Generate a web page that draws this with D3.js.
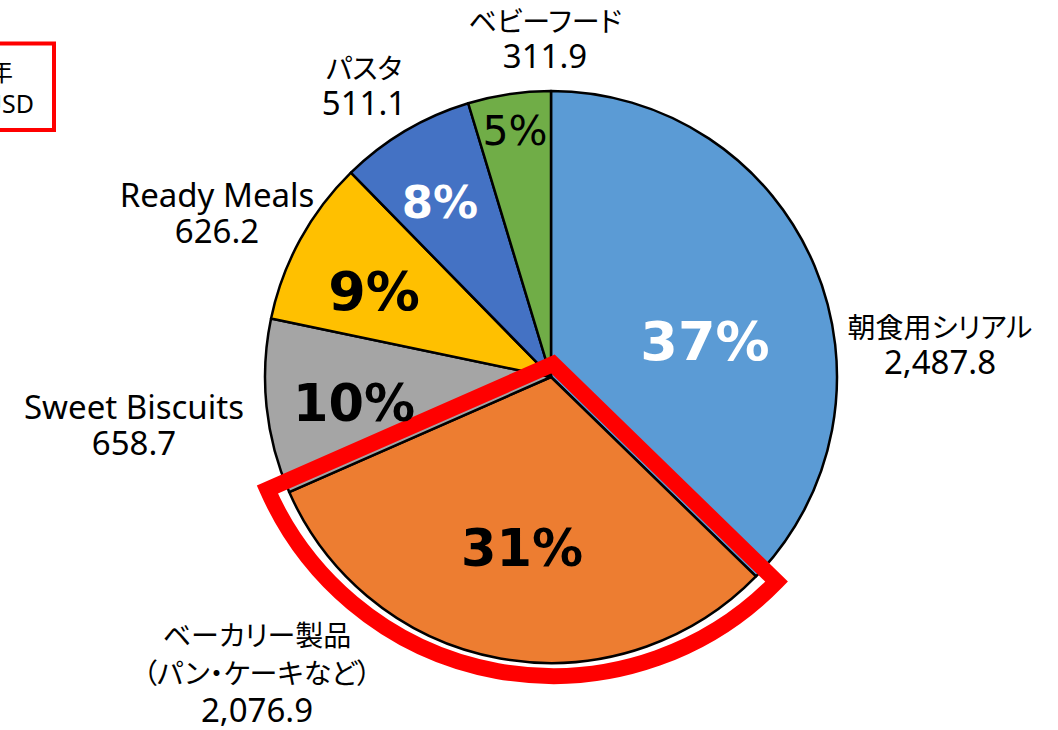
<!DOCTYPE html>
<html>
<head>
<meta charset="utf-8">
<script src="https://cdn.jsdelivr.net/npm/d3@7"></script>
<style>
  html, body { margin: 0; padding: 0; background: #fff; }
  svg { display: block; }
  .cjk { font-feature-settings: "palt" 1; }
</style>
</head>
<body>
<svg id="chart" width="1058" height="730"></svg>
<script>
// ---- data ----
const categories = ["朝食用シリアル", "ベーカリー製品\n（パン・ケーキなど）", "Sweet Biscuits", "Ready Meals", "パスタ", "ベビーフード"];
const values = [2487.8, 2076.9, 658.7, 626.2, 511.1, 311.9];
const valueLabels = ["2,487.8", "2,076.9", "658.7", "626.2", "511.1", "311.9"];
const boxLines = ["2023年", "百万USD"];
const highlightIndex = 1;

// ---- styling / layout ----
const colors = ["#5B9BD5", "#ED7D31", "#A5A5A5", "#FFC000", "#4472C4", "#70AD47"];
const cx = 551, cy = 377, R = 286;
// outside category labels: center x, first baseline y
const catLabelPos = [[940, 338], [257, 646], [134, 419], [217, 207], [364, 79], [545, 32]];
// inside percent labels: center x, baseline y, size, weight, color
const pctStyle = [
  [705, 360, 54, "bold", "#fff"],
  [522, 566, 51, "bold", "#000"],
  [354, 421, 51, "bold", "#000"],
  [374, 310, 54, "bold", "#000"],
  [440, 218, 45, "bold", "#fff"],
  [515, 145, 41, "normal", "#000"]
];

const svg = d3.select("#chart");
const total = d3.sum(values);
const pie = d3.pie().sort(null).value(d => d);
const arcs = pie(values);
const arc = d3.arc().innerRadius(0).outerRadius(R);

const g = svg.append("g").attr("transform", `translate(${cx},${cy})`);
g.selectAll("path.slice")
  .data(arcs)
  .join("path")
  .attr("class", "slice")
  .attr("d", arc)
  .attr("fill", (d, i) => colors[i])
  .attr("stroke", "#000")
  .attr("stroke-width", 2.5)
  .attr("stroke-linejoin", "round");

// highlight outline around bakery slice
const h = arcs[highlightIndex];
const hArc = d3.arc().innerRadius(0).outerRadius(R + 26);
svg.append("path")
  .attr("transform", `translate(${cx + 2},${cy - 13})`)
  .attr("d", hArc({startAngle: h.startAngle, endAngle: h.endAngle}))
  .attr("fill", "none")
  .attr("stroke", "#FF0000")
  .attr("stroke-width", 16)
  .attr("stroke-linejoin", "miter")
  .attr("stroke-miterlimit", 10);

// percent labels
svg.selectAll("text.pct")
  .data(values)
  .join("text")
  .attr("class", "pct")
  .attr("x", (d, i) => pctStyle[i][0])
  .attr("y", (d, i) => pctStyle[i][1])
  .attr("text-anchor", "middle")
  .attr("font-family", "'DejaVu Sans', sans-serif")
  .attr("font-size", (d, i) => pctStyle[i][2])
  .attr("font-weight", (d, i) => pctStyle[i][3])
  .attr("fill", (d, i) => pctStyle[i][4])
  .text(d => Math.round(d / total * 100) + "%");

// category labels
const isCJK = s => /[\u3000-\u9fff\uff00-\uffef]/.test(s);
categories.forEach((c, i) => {
  const lines = c.split("\n").concat([valueLabels[i]]);
  const [x, y0] = catLabelPos[i];
  const t = svg.append("text")
    .attr("text-anchor", "middle")
    .attr("fill", "#000");
  lines.forEach((ln, j) => {
    const cjk = isCJK(ln);
    t.append("tspan")
      .attr("class", cjk ? "cjk" : null)
      .attr("x", x)
      .attr("y", y0 + j * (lines.length > 2 ? 38 : (cjk ? 44 : 36)))
      .attr("font-family", cjk ? "'Noto Sans CJK JP', sans-serif" : "'Noto Sans', sans-serif")
      .attr("font-size", cjk ? 28 : 33)
      .text(ln);
  });
});

// top-left boxed note (partly off-canvas)
svg.append("rect")
  .attr("x", -20).attr("y", 43.5)
  .attr("width", 74).attr("height", 86.5)
  .attr("fill", "none")
  .attr("stroke", "#FF0000")
  .attr("stroke-width", 4);
const bt = svg.append("text").attr("text-anchor", "end").attr("fill", "#000")
  .attr("font-family", "'Noto Sans', 'Noto Sans CJK JP', sans-serif").attr("font-size", 25);
bt.append("tspan").attr("x", 13).attr("y", 81).text(boxLines[0]);
bt.append("tspan").attr("x", 34).attr("y", 113).text(boxLines[1]);
</script>
</body>
</html>
